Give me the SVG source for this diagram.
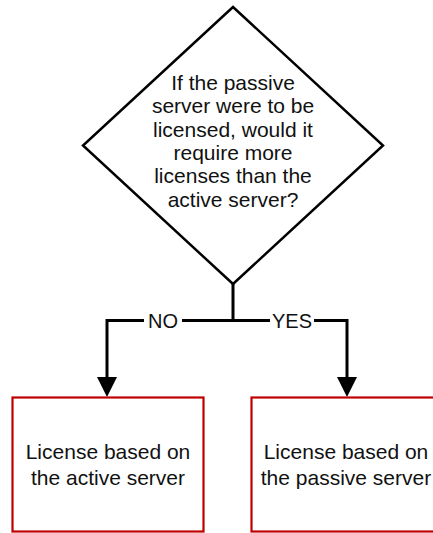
<svg xmlns="http://www.w3.org/2000/svg" width="433" height="533" viewBox="0 0 433 533">
<style>
.t{font-family:"Liberation Sans",Arial,sans-serif;font-size:21px;fill:#111;text-anchor:middle}
.lbl{font-family:"Liberation Sans",Arial,sans-serif;font-size:20px;fill:#111;text-anchor:middle}
.box{fill:#fff;stroke:#c00000;stroke-width:2.2}
.line{fill:none;stroke:#000;stroke-width:3}
</style>
<rect width="433" height="533" fill="#fff"/>
<g id="decision">
<polygon points="233,7 383,145.5 233,284 83,145.5" fill="#fff" stroke="#000" stroke-width="2.5"/>
<text class="t" x="233" y="90">If the passive</text>
<text class="t" x="233" y="113.3">server were to be</text>
<text class="t" x="233" y="136.7">licensed, would it</text>
<text class="t" x="233" y="160">require more</text>
<text class="t" x="233" y="183.3">licenses than the</text>
<text class="t" x="233" y="206.7">active server?</text>
</g>
<g id="connectors">
<path class="line" d="M233,284 V320.5 M107,378 V320.5 H347 V378"/>
<polygon points="97,377 117,377 107,397" fill="#000"/>
<polygon points="337,377 357,377 347,397" fill="#000"/>
<rect x="144" y="309" width="38" height="22" fill="#fff"/>
<text class="lbl" x="163" y="327.5">NO</text>
<rect x="270" y="309" width="44" height="22" fill="#fff"/>
<text class="lbl" x="292" y="327.5">YES</text>
</g>
<g id="active">
<rect class="box" x="12.5" y="397.5" width="191" height="134"/>
<text class="t" x="108" y="459">License based on</text>
<text class="t" x="108" y="485">the active server</text>
</g>
<g id="passive">
<rect class="box" x="251.5" y="397.5" width="189" height="134"/>
<text class="t" x="346" y="459">License based on</text>
<text class="t" x="346" y="485">the passive server</text>
</g>
</svg>
